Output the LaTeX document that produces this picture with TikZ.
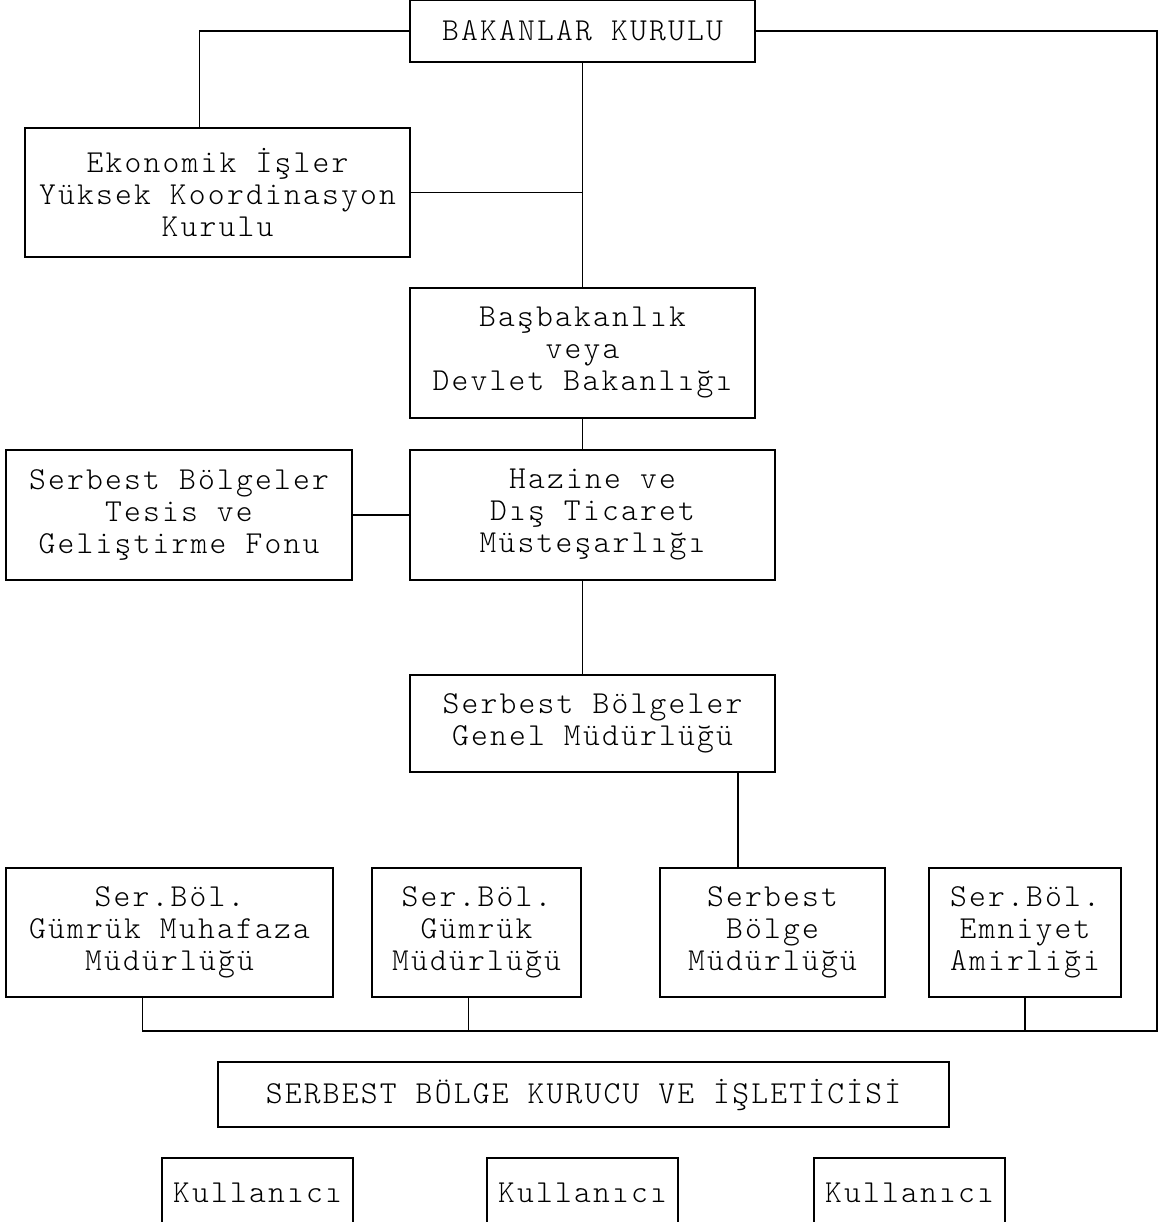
\documentclass[tikz,border=0pt]{standalone}
\usepackage{fontspec}
\setmonofont{Latin Modern Mono Light}[LetterSpace=6.9]
\usepackage{tikz}

\begin{document}
\begin{tikzpicture}[x=1pt,y=-1pt,
	kutu/.style={draw,line width=1.8pt,align=center,inner sep=0pt,font=\fontsize{32}{32}\selectfont\ttfamily},
	hat/.style={line width=1.8pt}]
	\useasboundingbox (0,0) rectangle (1166,1222);
	\node[kutu,minimum width=345,minimum height=62] (bk) at (582.5,31) {BAKANLAR KURULU};
	\node[kutu,minimum width=385,minimum height=129] (eko) at (217.5,192.5) {Ekonomik İşler\\Yüksek Koordinasyon\\Kurulu};
	\node[kutu,minimum width=345,minimum height=130] (bas) at (582.5,353) {Başbakanlık\\veya\\Devlet Bakanlığı};
	\node[kutu,minimum width=365,minimum height=130] (haz) at (592.5,515) {Hazine ve\\Dış Ticaret\\Müsteşarlığı};
	\node[kutu,minimum width=346,minimum height=130] (fon) at (179,515) {Serbest Bölgeler\\Tesis ve\\Geliştirme Fonu};
	\node[kutu,minimum width=365,minimum height=97] (gen) at (592.5,723.5) {Serbest Bölgeler\\Genel Müdürlüğü};
	\node[kutu,minimum width=327,minimum height=129] (gma) at (169.5,932.5) {Ser.Böl.\\Gümrük Muhafaza\\Müdürlüğü};
	\node[kutu,minimum width=209,minimum height=129] (gm) at (476.5,932.5) {Ser.Böl.\\Gümrük\\Müdürlüğü};
	\node[kutu,minimum width=225,minimum height=129] (sbm) at (772.5,932.5) {Serbest\\Bölge\\Müdürlüğü};
	\node[kutu,minimum width=192,minimum height=129] (emn) at (1025,932.5) {Ser.Böl.\\Emniyet\\Amirliği};
	\node[kutu,minimum width=731,minimum height=65] (kur) at (583.5,1094.5) {SERBEST BÖLGE KURUCU VE İŞLETİCİSİ};
	\node[kutu,minimum width=191,minimum height=70] (k1) at (257.5,1193) {Kullanıcı};
	\node[kutu,minimum width=191,minimum height=70] (k2) at (582.5,1193) {Kullanıcı};
	\node[kutu,minimum width=191,minimum height=70] (k3) at (909.5,1193) {Kullanıcı};
	\coordinate (sag) at (1157,1031);
	\draw[hat] (bk.west) -| ([xshift=-18pt]eko.north);
	\draw[hat] (bk.south) -- (bas.north);
	\draw[hat] (eko.east) -- (eko.east -| bk.south);
	\draw[hat] (bas.south) -- (bas.south |- haz.north);
	\draw[hat] (fon.east) -- (haz.west);
	\draw[hat] ([xshift=-10pt]haz.south) -- ([xshift=-10pt]gen.north);
	\draw[hat] ([xshift=-38pt]gen.south east) -- ([xshift=-38pt]gen.south east |- sbm.north);
	\draw[hat] (bk.east) -| (sag) -| ([xshift=-27pt]gma.south);
	\draw[hat] ([xshift=-8pt]gm.south) -- ([xshift=-8pt]gm.south |- sag);
	\draw[hat] (emn.south) -- (emn.south |- sag);
\end{tikzpicture}
\end{document}
